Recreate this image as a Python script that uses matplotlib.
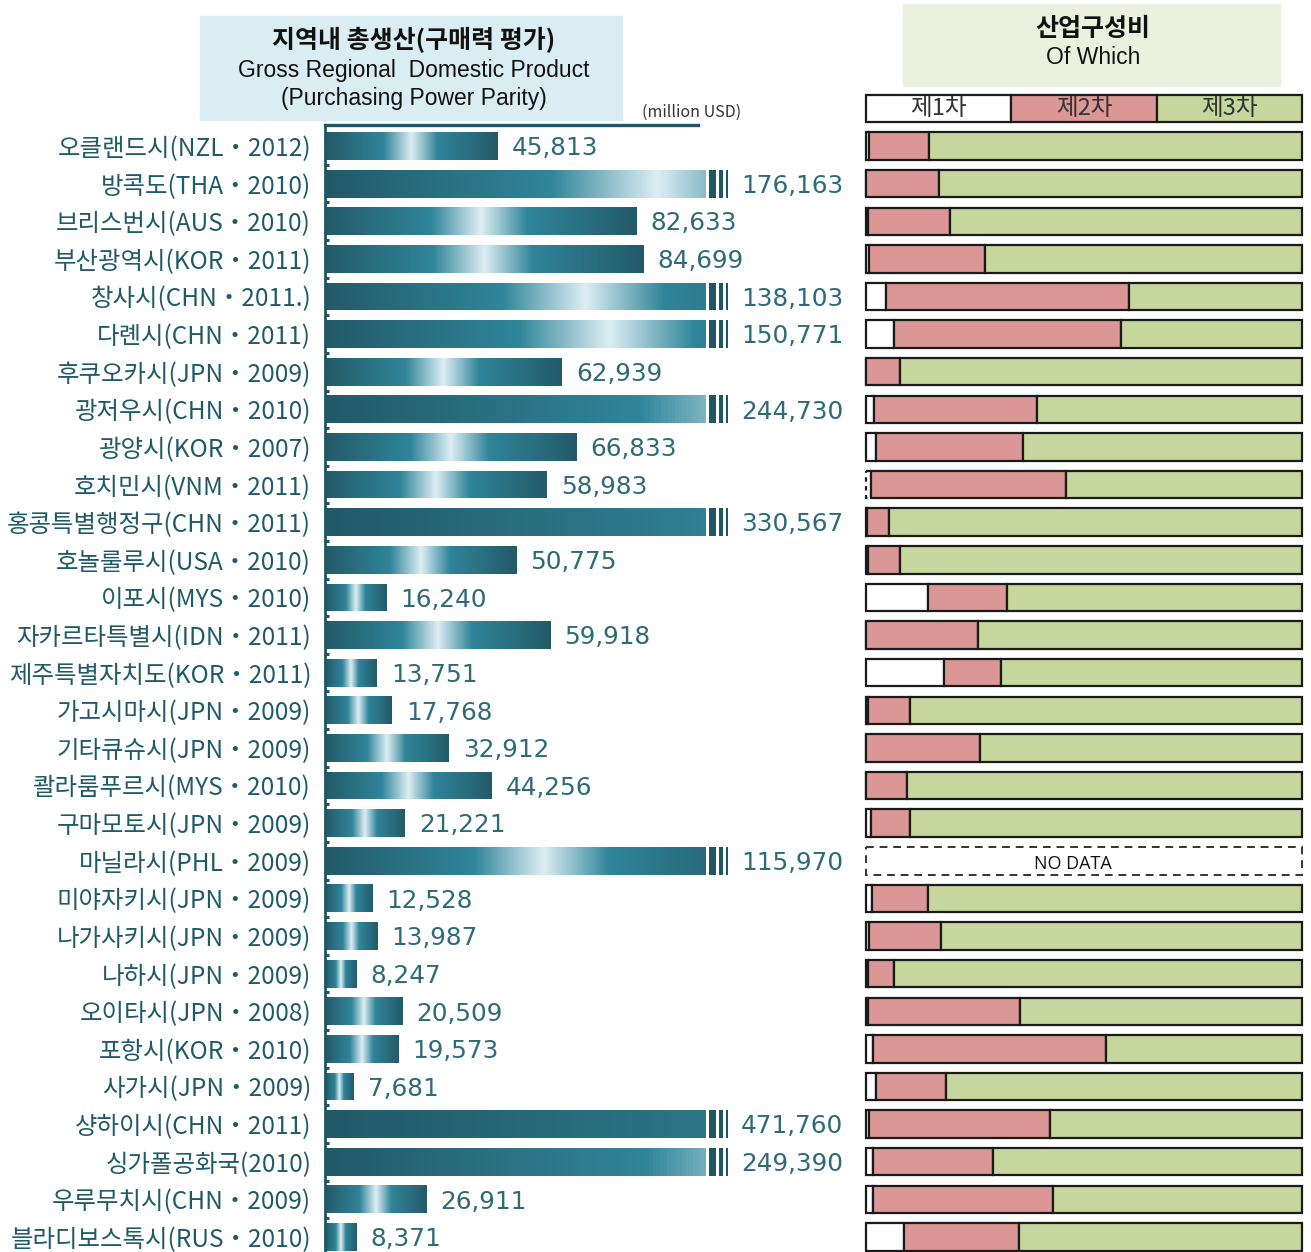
import numpy as np
import matplotlib
matplotlib.use("Agg")
import matplotlib.pyplot as plt
from matplotlib.colors import LinearSegmentedColormap
from matplotlib.patches import Rectangle

plt.rcParams['font.family'] = ['Noto Sans CJK KR', 'DejaVu Sans']

# Data
cities = [
    '오클랜드시(NZL・2012)', '방콕도(THA・2010)', '브리스번시(AUS・2010)',
    '부산광역시(KOR・2011)', '창사시(CHN・2011.)', '다롄시(CHN・2011)',
    '후쿠오카시(JPN・2009)', '광저우시(CHN・2010)', '광양시(KOR・2007)',
    '호치민시(VNM・2011)', '홍콩특별행정구(CHN・2011)', '호놀룰루시(USA・2010)',
    '이포시(MYS・2010)', '자카르타특별시(IDN・2011)', '제주특별자치도(KOR・2011)',
    '가고시마시(JPN・2009)', '기타큐슈시(JPN・2009)', '콸라룸푸르시(MYS・2010)',
    '구마모토시(JPN・2009)', '마닐라시(PHL・2009)', '미야자키시(JPN・2009)',
    '나가사키시(JPN・2009)', '나하시(JPN・2009)', '오이타시(JPN・2008)',
    '포항시(KOR・2010)', '사가시(JPN・2009)', '샹하이시(CHN・2011)',
    '싱가폴공화국(2010)', '우루무치시(CHN・2009)', '블라디보스톡시(RUS・2010)',
]
grdp = [45813, 176163, 82633, 84699, 138103, 150771, 62939, 244730, 66833,
        58983, 330567, 50775, 16240, 59918, 13751, 17768, 32912, 44256,
        21221, 115970, 12528, 13987, 8247, 20509, 19573, 7681, 471760,
        249390, 26911, 8371]

# industry shares in % (primary, secondary, tertiary); nan = no data
primary = [0.6, 0, 0.4, 0.8, 4.6, 6.4, 0, 1.9, 2.3, 1.1, 0.2, 0.4, 14.2, 0,
           17.9, 0.5, 0, 0, 1.2, np.nan, 1.4, 0.7, 0.5, 0.5, 1.5, 2.3, 0.7,
           1.5, 1.5, 8.7]
secondary = [13.8, 16.7, 18.9, 26.5, 55.7, 52.0, 7.9, 37.3, 33.6, 44.7, 5.1,
             7.5, 18.2, 25.8, 13.0, 9.6, 26.1, 9.4, 8.9, np.nan, 12.8, 16.4,
             5.9, 34.9, 53.6, 16.0, 41.4, 27.6, 41.3, 26.3]
tertiary = [85.6, 83.3, 80.7, 72.7, 39.7, 41.6, 92.1, 60.8, 64.1, 54.2, 94.7,
            92.1, 67.6, 74.2, 69.1, 89.9, 73.9, 90.6, 89.9, np.nan, 85.8,
            82.9, 93.6, 64.6, 44.9, 81.7, 57.9, 70.9, 57.2, 65.0]
sector_names = ['제1차', '제2차', '제3차']

# Style
CAP = 101000      # longer bars are cut here and get break marks
PX = 265.7        # GRDP units per pixel on the left panel
DARK = '#235a68'
MID = '#30859a'
LIGHT = '#ddeef3'
BREAK = '#1f5664'
VALTXT = '#2d6b79'
LBLTXT = '#1f5a68'
PINK = '#db9696'
GREEN = '#c5d79d'

W, H = 1311, 1252
ROW0, STEP = 146, 37.62

fig = plt.figure(figsize=(W / 100, H / 100), dpi=100)


def box(x0, y0, x1, y1):
    return [x0 / W, 1 - y1 / H, (x1 - x0) / W, (y1 - y0) / H]


def rows(top_px, bot_px):
    return ((bot_px - ROW0) / STEP, (top_px - ROW0) / STEP)


ypos = np.arange(len(cities))
bh = 0.74

# ---- left panel: GRDP bars
ax1 = fig.add_axes(box(325, 125, 860, 1252))
cmap = LinearSegmentedColormap.from_list(
    'teal', [(0, DARK), (0.34, MID), (0.5, LIGHT), (0.65, MID), (1, DARK)])
grad = np.linspace(0, 1, 256).reshape(1, -1)

bars = ax1.barh(ypos, np.minimum(grdp, CAP), height=bh, color='none',
                edgecolor='none')
for bar, v, y in zip(bars, grdp, ypos):
    im = ax1.imshow(grad, cmap=cmap, aspect='auto', interpolation='bilinear',
                    extent=(0, v, y + bh / 2, y - bh / 2))
    im.set_clip_path(bar)

broken = [y for y, v in zip(ypos, grdp) if v > CAP]
for off, w in [(3.5, 7), (13.5, 4), (20.5, 2)]:
    ax1.barh(broken, w * PX, left=CAP + off * PX, height=bh, color=BREAK)

for y, v in zip(ypos, grdp):
    x = CAP + 36 * PX if v > CAP else v + 14 * PX
    ax1.text(x, y + 0.06, f'{v:,}', va='center', ha='left', fontsize=17.8,
             color=VALTXT, family='DejaVu Sans')

ax1.set_xlim(0, 535 * PX)
ax1.set_ylim(*rows(125, 1252))
for s in ['right', 'bottom']:
    ax1.spines[s].set_visible(False)
ax1.spines['left'].set_color(BREAK)
ax1.spines['left'].set_linewidth(2)
ax1.spines['top'].set_color(BREAK)
ax1.spines['top'].set_linewidth(2.4)
ax1.spines['top'].set_bounds(0, 99000)
ax1.set_xticks([])
ax1.set_yticks(ypos, labels=cities)
ax1.set_yticks(ypos[:-1] + 0.5, minor=True)
ax1.tick_params(axis='y', which='major', length=0, pad=10, labelsize=17.6,
                labelcolor=LBLTXT)
ax1.tick_params(axis='y', which='minor', direction='in', length=3, width=2.2,
                color=BREAK)

# ---- right panel: industry composition
ax2 = fig.add_axes(box(866, 90, 1302, 1252))
ax2.set_xlim(0, 100)
ax2.set_ylim(*rows(90, 1252))
ax2.axis('off')

p = np.array(primary)
s = np.array(secondary)
t = np.array(tertiary)
ok = ~np.isnan(p)
kw = dict(height=0.73, edgecolor='#1a1a1a', linewidth=1.6, clip_on=False)
b1 = ax2.barh(ypos[ok], p[ok], color='white', **kw)
ax2.barh(ypos[ok], s[ok], left=p[ok], color=PINK, **kw)
ax2.barh(ypos[ok], t[ok], left=p[ok] + s[ok], color=GREEN, **kw)
b1[list(ypos[ok]).index(9)].set_linestyle((0, (2, 2)))

for y in ypos[~ok]:
    ax2.barh(y, 100, height=0.73, color='white', edgecolor='#333333',
             linewidth=1.4, linestyle=(0, (4, 3)), clip_on=False)
    ax2.text(47.5, y + 0.08, 'NO DATA', ha='center', va='center',
             fontsize=13, family='Open Sans', color='#111111')

# legend strip above the bars
ax2.barh([-1] * 3, [100 / 3] * 3, left=[0, 100 / 3, 200 / 3],
         color=['white', PINK, GREEN], **kw)
for k, name in enumerate(sector_names):
    ax2.text(100 / 6 + k * 100 / 3, -1, name, ha='center', va='center',
             fontsize=17, color='#333333')

# ---- headers
fig.add_artist(Rectangle((200 / W, 1 - 120 / H), 422 / W, 104 / H,
                         transform=fig.transFigure, color='#daedf3', zorder=0))
fig.text(414 / W, 1 - 40 / H, '지역내 총생산(구매력 평가)', ha='center',
         va='center', fontsize=18, fontweight='bold', color='#111111')
fig.text(414 / W, 1 - 70 / H, 'Gross Regional  Domestic Product',
         ha='center', va='center', fontsize=16.5, family='Liberation Sans',
         color='#111111')
fig.text(414 / W, 1 - 98 / H, '(Purchasing Power Parity)', ha='center',
         va='center', fontsize=16.5, family='Liberation Sans',
         color='#111111')
fig.text(692 / W, 1 - 112 / H, '(million USD)', ha='center', va='center',
         fontsize=11.5, color='#333333')

fig.add_artist(Rectangle((903 / W, 1 - 86 / H), 377 / W, 82 / H,
                         transform=fig.transFigure, color='#ebf0df', zorder=0))
fig.text(1093 / W, 1 - 29 / H, '산업구성비', ha='center', va='center',
         fontsize=18, fontweight='bold', color='#111111')
fig.text(1093 / W, 1 - 58 / H, 'Of Which', ha='center', va='center',
         fontsize=16.5, family='Liberation Sans', color='#111111')

fig.savefig('out.png', dpi=100)
